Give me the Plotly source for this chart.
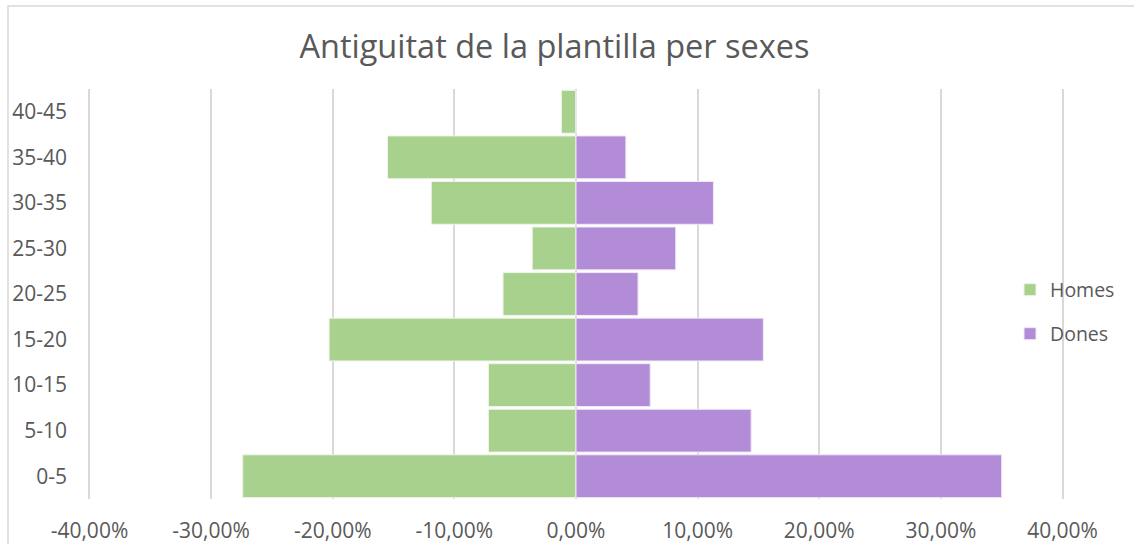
import plotly.graph_objects as go

categories = ["0-5", "5-10", "10-15", "15-20", "20-25", "25-30", "30-35", "35-40", "40-45"]
homes = [-0.274, -0.072, -0.072, -0.203, -0.060, -0.036, -0.119, -0.155, -0.012]
dones = [0.350, 0.144, 0.061, 0.154, 0.051, 0.082, 0.113, 0.041, 0.0]
tick_vals = [-0.4, -0.3, -0.2, -0.1, 0.0, 0.1, 0.2, 0.3, 0.4]
tick_text = ["-40,00%", "-30,00%", "-20,00%", "-10,00%", "0,00%", "10,00%", "20,00%", "30,00%", "40,00%"]

GREEN = "#A9D18E"
PURPLE = "#B38CD8"
TXT = "#595959"
GRID = "#D9D9D9"
FONT = "Open Sans"

L, R, T, B = 88, 70, 89, 45
PW = 1134 - L - R
PH = 544 - T - B

fig = go.Figure()
fig.add_trace(go.Bar(y=categories, x=homes, orientation="h", name="Homes",
                     marker=dict(color=GREEN, line=dict(color="#EEF5E9", width=1)),
                     legend="legend", showlegend=True))
fig.add_trace(go.Bar(y=categories, x=dones, orientation="h", name="Dones",
                     marker=dict(color=PURPLE, line=dict(color="#F0E8F7", width=1)),
                     legend="legend2", showlegend=True))

# chart border
fig.add_shape(type="rect", xref="paper", yref="paper",
              x0=(8 - L) / PW, x1=(1145 - L) / PW,
              y0=(T + PH - 560) / PH, y1=(T + PH - 6) / PH,
              line=dict(color=GRID, width=1.5), fillcolor="rgba(0,0,0,0)", layer="below")

fig.update_layout(
    width=1134, height=544,
    paper_bgcolor="white", plot_bgcolor="white",
    margin=dict(l=L, r=R, t=T, b=B, autoexpand=False),
    barmode="relative", bargap=0.06,
    showlegend=True,
    font=dict(family=FONT, color=TXT, size=21),
    title=dict(text="Antiguitat de la plantilla per sexes", x=0.489, xanchor="center",
               y=1 - 47 / 544, yanchor="middle", yref="container", automargin=False,
               font=dict(family=FONT, size=32.5, color=TXT)),
    xaxis=dict(range=[-0.4012, 0.4012], tickvals=tick_vals, ticktext=tick_text,
               showgrid=True, gridcolor=GRID, gridwidth=1.5,
               zeroline=True, zerolinecolor=GRID, zerolinewidth=1.5,
               showline=False, ticks="", tickfont=dict(size=21, color=TXT),
               ticklabelstandoff=17, automargin=False),
    yaxis=dict(type="category", categoryorder="array", categoryarray=categories,
               showgrid=False, zeroline=False, showline=False, ticks="",
               tickfont=dict(size=21, color=TXT), ticklabelstandoff=20, automargin=False),
    legend=dict(x=(1010 - L) / PW, y=(T + PH - 290) / PH, xanchor="left", yanchor="middle",
                font=dict(size=19.5, color=TXT), bgcolor="rgba(0,0,0,0)", itemwidth=30),
    legend2=dict(x=(1010 - L) / PW, y=(T + PH - 334) / PH, xanchor="left", yanchor="middle",
                 font=dict(size=19.5, color=TXT), bgcolor="rgba(0,0,0,0)", itemwidth=30),
)

fig.write_html("out.html", config={"displayModeBar": False},
               post_script="document.body.style.margin='0';document.body.style.overflow='hidden';")
